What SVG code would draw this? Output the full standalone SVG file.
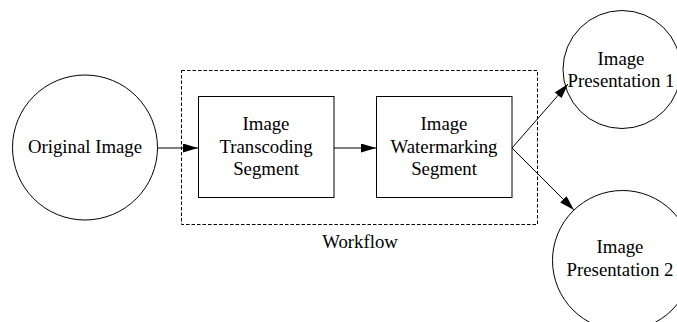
<svg xmlns="http://www.w3.org/2000/svg" width="677" height="322" viewBox="0 0 677 322">
<style>
.s{fill:#fff;stroke:#000;stroke-width:1}
.t{font-family:"Liberation Serif","Times New Roman",serif;font-size:18.8px;fill:#000;text-anchor:middle}
.c{stroke:#000;stroke-width:1;fill:none;marker-end:url(#ah)}
</style>
<defs>
<marker id="ah" markerUnits="userSpaceOnUse" markerWidth="15" markerHeight="10" refX="15" refY="4.5" orient="auto">
<path d="M0,0 L15,4.5 L0,9 z" fill="#000"/>
</marker>
</defs>
<rect width="677" height="322" fill="#fff"/>
<g id="workflow">
<rect x="181.5" y="70.5" width="356" height="154" fill="none" stroke="#000" stroke-width="1" stroke-dasharray="3.5,2"/>
<text class="t" x="360" y="248">Workflow</text>
</g>
<g id="original">
<circle class="s" cx="85" cy="147.5" r="72.5"/>
<text class="t" x="85" y="153">Original Image</text>
</g>
<g id="transcoding">
<rect class="s" x="198.5" y="96.5" width="135.5" height="101"/>
<text class="t" x="266" y="130">Image</text>
<text class="t" x="266" y="153">Transcoding</text>
<text class="t" x="266" y="175">Segment</text>
</g>
<g id="watermarking">
<rect class="s" x="376.5" y="96.5" width="135.5" height="101"/>
<text class="t" x="444" y="130">Image</text>
<text class="t" x="444" y="153">Watermarking</text>
<text class="t" x="444" y="175">Segment</text>
</g>
<g id="presentation1">
<circle class="s" cx="622" cy="69.5" r="59"/>
<text class="t" x="621" y="65">Image</text>
<text class="t" x="621" y="87">Presentation 1</text>
</g>
<g id="presentation2">
<circle class="s" cx="622.5" cy="260.5" r="70"/>
<text class="t" x="620" y="253">Image</text>
<text class="t" x="620" y="276">Presentation 2</text>
</g>
<g id="connectors">
<line class="c" x1="157.5" y1="148" x2="198" y2="148"/>
<line class="c" x1="334" y1="148" x2="376" y2="148"/>
<line class="c" x1="512" y1="148" x2="568" y2="84"/>
<line class="c" x1="512" y1="148" x2="574" y2="210"/>
</g>
</svg>
